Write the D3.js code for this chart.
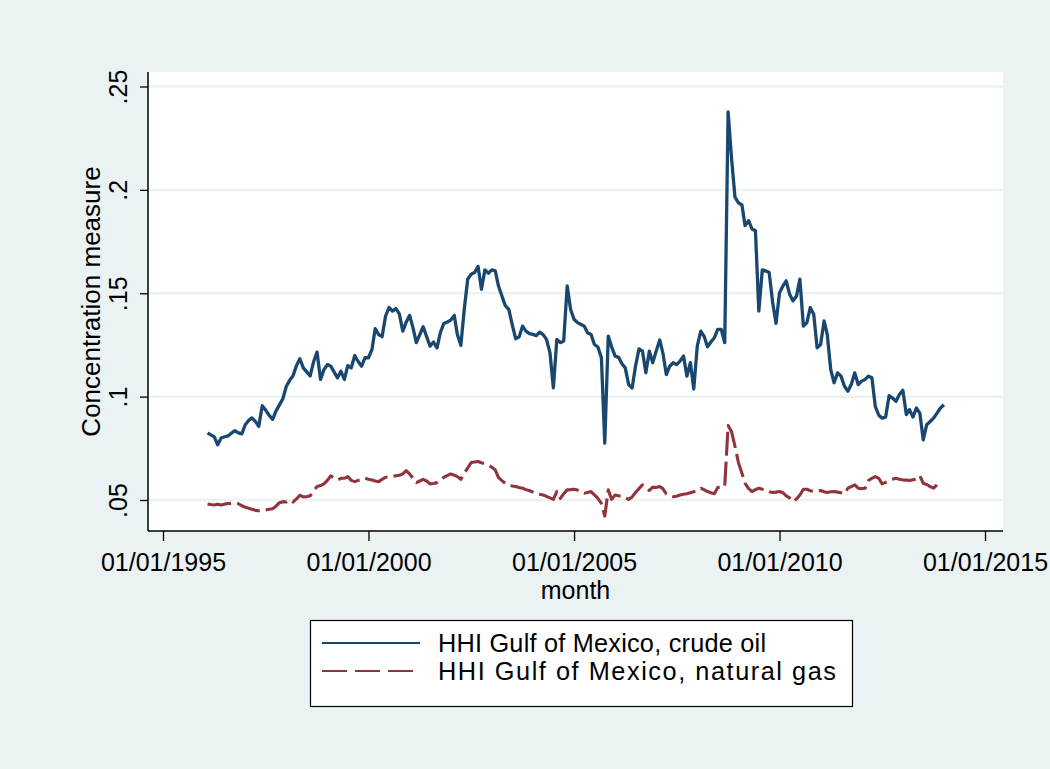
<!DOCTYPE html>
<html>
<head>
<meta charset="utf-8">
<script src="https://cdn.jsdelivr.net/npm/d3@7"></script>
<style>
  html, body { margin: 0; padding: 0; background: #eaf2f3; }
  svg { display: block; font-family: "Liberation Sans", Arial, Helvetica, sans-serif; }
</style>
</head>
<body>
<svg id="chart" width="1050" height="769"></svg>
<script>
// Monthly HHI series, first observation February 1996
const startYear = 1996;
const startMonth = 1; // 0-based month index (February)

const oilValues = [
  0.0824, 0.0815, 0.0805, 0.0767, 0.0800, 0.0806, 0.0810, 0.0824, 0.0835, 0.0825, 0.0820, 0.0864,
  0.0885, 0.0897, 0.0880, 0.0856, 0.0956, 0.0935, 0.0910, 0.0890, 0.0930, 0.0960, 0.0990, 0.1050,
  0.1080, 0.1100, 0.1150, 0.1183, 0.1139, 0.1120, 0.1100, 0.1170, 0.1215, 0.1083, 0.1130, 0.1155,
  0.1147, 0.1120, 0.1091, 0.1123, 0.1083, 0.1150, 0.1139, 0.1199, 0.1170, 0.1147, 0.1188, 0.1188,
  0.1228, 0.1329, 0.1300, 0.1290, 0.1390, 0.1431, 0.1414, 0.1426, 0.1400, 0.1317, 0.1360, 0.1393,
  0.1330, 0.1261, 0.1300, 0.1338, 0.1290, 0.1244, 0.1264, 0.1236, 0.1310, 0.1354, 0.1361, 0.1370,
  0.1393, 0.1300, 0.1248, 0.1422, 0.1568, 0.1592, 0.1600, 0.1630, 0.1519, 0.1613, 0.1597, 0.1613,
  0.1608, 0.1536, 0.1487, 0.1440, 0.1422, 0.1350, 0.1280, 0.1289, 0.1341, 0.1317, 0.1305, 0.1301,
  0.1295, 0.1312, 0.1300, 0.1277, 0.1212, 0.1042, 0.1277, 0.1261, 0.1269, 0.1536, 0.1422, 0.1374,
  0.1358, 0.1350, 0.1341, 0.1309, 0.1301, 0.1252, 0.1240, 0.1188, 0.0775, 0.1293, 0.1241, 0.1196,
  0.1190, 0.1160, 0.1139, 0.1058, 0.1042, 0.1147, 0.1231, 0.1220, 0.1115, 0.1220, 0.1164, 0.1220,
  0.1274, 0.1212, 0.1107, 0.1147, 0.1164, 0.1155, 0.1172, 0.1196, 0.1099, 0.1164, 0.1037, 0.1244,
  0.1317, 0.1293, 0.1241, 0.1264, 0.1285, 0.1325, 0.1325, 0.1261, 0.2377, 0.2150, 0.1965, 0.1937,
  0.1927, 0.1827, 0.1851, 0.1811, 0.1802, 0.1414, 0.1613, 0.1608, 0.1600, 0.1455, 0.1354, 0.1503,
  0.1536, 0.1560, 0.1495, 0.1463, 0.1487, 0.1568, 0.1341, 0.1358, 0.1431, 0.1398, 0.1236, 0.1252,
  0.1366, 0.1301, 0.1131, 0.1067, 0.1115, 0.1099, 0.1050, 0.1026, 0.1060, 0.1115, 0.1058, 0.1075,
  0.1083, 0.1099, 0.1091, 0.0953, 0.0910, 0.0896, 0.0901, 0.1005, 0.0993, 0.0977, 0.1010, 0.1031,
  0.0913, 0.0937, 0.0901, 0.0945, 0.0920, 0.0791, 0.0864, 0.0880, 0.0896, 0.0920, 0.0945, 0.0961
];

const gasValues = [
  0.0481, 0.0478, 0.0476, 0.0480, 0.0476, 0.0480, 0.0483, 0.0484, 0.0484, 0.0482, 0.0472, 0.0465,
  0.0460, 0.0455, 0.0450, 0.0448, 0.0450, 0.0452, 0.0455, 0.0458, 0.0470, 0.0487, 0.0492, 0.0490,
  0.0500, 0.0490, 0.0505, 0.0523, 0.0515, 0.0516, 0.0520, 0.0545, 0.0565, 0.0570, 0.0578, 0.0595,
  0.0617, 0.0605, 0.0597, 0.0605, 0.0605, 0.0613, 0.0595, 0.0589, 0.0595, 0.0597, 0.0605, 0.0600,
  0.0597, 0.0592, 0.0589, 0.0600, 0.0610, 0.0612, 0.0615, 0.0617, 0.0620, 0.0626, 0.0642, 0.0626,
  0.0605, 0.0584, 0.0592, 0.0600, 0.0592, 0.0578, 0.0580, 0.0584, 0.0597, 0.0610, 0.0618, 0.0626,
  0.0620, 0.0613, 0.0600, 0.0630, 0.0655, 0.0681, 0.0684, 0.0686, 0.0680, 0.0675, 0.0668, 0.0659,
  0.0645, 0.0610, 0.0594, 0.0580, 0.0572, 0.0568, 0.0565, 0.0560, 0.0557, 0.0550, 0.0546, 0.0538,
  0.0530, 0.0528, 0.0524, 0.0518, 0.0510, 0.0503, 0.0541, 0.0508, 0.0530, 0.0549, 0.0550, 0.0552,
  0.0548, 0.0540, 0.0533, 0.0536, 0.0541, 0.0525, 0.0508, 0.0484, 0.0422, 0.0549, 0.0503, 0.0524,
  0.0520, 0.0519, 0.0510, 0.0503, 0.0515, 0.0536, 0.0555, 0.0573, 0.0560, 0.0546, 0.0562, 0.0561,
  0.0565, 0.0555, 0.0530, 0.0522, 0.0516, 0.0518, 0.0524, 0.0528, 0.0530, 0.0535, 0.0540, 0.0546,
  0.0557, 0.0550, 0.0541, 0.0535, 0.0530, 0.0560, 0.0565, 0.0565, 0.0860, 0.0830, 0.0760, 0.0680,
  0.0629, 0.0581, 0.0555, 0.0541, 0.0550, 0.0557, 0.0552, 0.0549, 0.0540, 0.0536, 0.0538, 0.0541,
  0.0535, 0.0520, 0.0510, 0.0492, 0.0505, 0.0524, 0.0552, 0.0552, 0.0545, 0.0541, 0.0544, 0.0546,
  0.0540, 0.0536, 0.0540, 0.0541, 0.0538, 0.0535, 0.0530, 0.0557, 0.0565, 0.0573, 0.0557, 0.0555,
  0.0557, 0.0594, 0.0605, 0.0613, 0.0605, 0.0578, 0.0585, 0.0594, 0.0600, 0.0605, 0.0600, 0.0597,
  0.0596, 0.0594, 0.0598, 0.0600, 0.0617, 0.0581, 0.0575, 0.0565, 0.0557, 0.0573, 0.0594
];

const yTickValues = [0.05, 0.1, 0.15, 0.2, 0.25];
const yTickLabels = [".05", ".1", ".15", ".2", ".25"];
const xTickYears = [1995, 2000, 2005, 2010, 2015];
const seriesNames = ["HHI Gulf of Mexico, crude oil", "HHI Gulf of Mexico, natural gas"];
const yTitle = "Concentration measure";
const xTitle = "month";

const colors = { oil: "#1a476f", gas: "#90353b", grid: "#eaf2f3", bg: "#eaf2f3" };

// Plot region
const plot = { left: 148, right: 1003, top: 72, bottom: 531 };

const svg = d3.select("#chart");

svg.append("rect")
  .attr("x", 0).attr("y", 0).attr("width", 1050).attr("height", 769)
  .attr("fill", colors.bg);

svg.append("rect")
  .attr("x", plot.left).attr("y", plot.top)
  .attr("width", plot.right - plot.left).attr("height", plot.bottom - plot.top)
  .attr("fill", "#ffffff");

// Scales: ticks at 1995 and 2015 sit at 163 and 985
const x = d3.scaleTime()
  .domain([new Date(1995, 0, 1), new Date(2015, 0, 1)])
  .range([163, 985]);

const y = d3.scaleLinear()
  .domain([0.05, 0.25])
  .range([500, 86.5]);

const toSeries = vals => vals.map((v, i) => ({ date: new Date(startYear, startMonth + i, 1), value: v }));
const oil = toSeries(oilValues);
const gas = toSeries(gasValues);

// Horizontal grid lines
svg.append("g")
  .selectAll("line")
  .data(yTickValues)
  .join("line")
  .attr("x1", plot.left + 1).attr("x2", plot.right)
  .attr("y1", d => y(d)).attr("y2", d => y(d))
  .attr("stroke", colors.grid)
  .attr("stroke-width", 2.5);

// Series lines
const line = d3.line()
  .x(d => x(d.date))
  .y(d => y(d.value));

svg.append("path")
  .datum(gas)
  .attr("d", line)
  .attr("fill", "none")
  .attr("stroke", colors.gas)
  .attr("stroke-width", 3.1)
  .attr("stroke-dasharray", "24,6")
  .attr("stroke-linejoin", "round");

svg.append("path")
  .datum(oil)
  .attr("d", line)
  .attr("fill", "none")
  .attr("stroke", colors.oil)
  .attr("stroke-width", 3.3)
  .attr("stroke-linejoin", "round");

// Y axis
const yAxis = d3.axisLeft(y)
  .tickValues(yTickValues)
  .tickSize(8)
  .tickFormat((d, i) => yTickLabels[i]);

const gy = svg.append("g")
  .attr("transform", `translate(${plot.left},0)`)
  .call(yAxis);
gy.select(".domain").remove();
gy.selectAll(".tick line").attr("stroke", "#000").attr("stroke-width", 1.3);
gy.selectAll(".tick text")
  .attr("x", null).attr("dy", null)
  .attr("transform", "translate(-21,0) rotate(-90)")
  .attr("text-anchor", "middle")
  .attr("fill", "#000")
  .style("font-size", "25px");
svg.append("line")
  .attr("x1", plot.left).attr("x2", plot.left)
  .attr("y1", plot.top).attr("y2", plot.bottom)
  .attr("stroke", "#000").attr("stroke-width", 1.5);

// X axis
const xAxis = d3.axisBottom(x)
  .tickValues(xTickYears.map(yr => new Date(yr, 0, 1)))
  .tickSize(10)
  .tickFormat(d3.timeFormat("%m/%d/%Y"));

const gx = svg.append("g")
  .attr("transform", `translate(0,${plot.bottom})`)
  .call(xAxis);
gx.select(".domain").remove();
gx.selectAll(".tick line").attr("stroke", "#000").attr("stroke-width", 1.3);
gx.selectAll(".tick text")
  .attr("y", 40).attr("dy", null)
  .attr("fill", "#000")
  .style("font-size", "25px");
svg.append("line")
  .attr("x1", plot.left).attr("x2", plot.right)
  .attr("y1", plot.bottom).attr("y2", plot.bottom)
  .attr("stroke", "#000").attr("stroke-width", 1.5);

// Axis titles
svg.append("text")
  .attr("transform", `translate(100,${(plot.top + plot.bottom) / 2}) rotate(-90)`)
  .attr("text-anchor", "middle")
  .style("font-size", "26px")
  .text(yTitle);

svg.append("text")
  .attr("x", (plot.left + plot.right) / 2)
  .attr("y", 599)
  .attr("text-anchor", "middle")
  .style("font-size", "25px")
  .text(xTitle);

// Legend
const legend = svg.append("g");
legend.append("rect")
  .attr("x", 310.5).attr("y", 620.5)
  .attr("width", 542).attr("height", 86)
  .attr("fill", "#fff")
  .attr("stroke", "#000").attr("stroke-width", 1.2);

const legendItems = [
  { name: seriesNames[0], color: colors.oil, dash: null, y: 643, len: 328 },
  { name: seriesNames[1], color: colors.gas, dash: "25,8", y: 671, len: 398 }
];
legendItems.forEach(it => {
  legend.append("line")
    .attr("x1", 322).attr("x2", 420)
    .attr("y1", it.y).attr("y2", it.y)
    .attr("stroke", it.color)
    .attr("stroke-width", 2.2)
    .attr("stroke-dasharray", it.dash);
  legend.append("text")
    .attr("x", 438).attr("y", it.y + 9)
    .attr("textLength", it.len)
    .attr("lengthAdjust", "spacing")
    .style("font-size", "25.3px")
    .attr("fill", "#000")
    .text(it.name);
});
</script>
</body>
</html>
